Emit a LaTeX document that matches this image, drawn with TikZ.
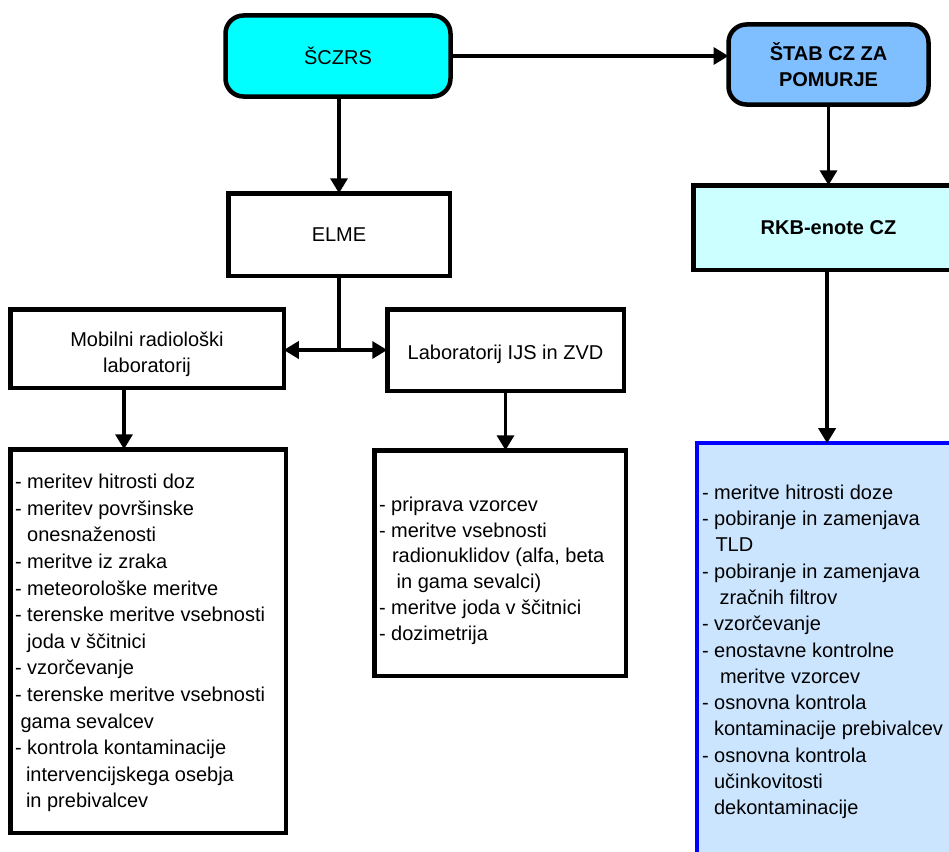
\documentclass[tikz,border=0pt]{standalone}
\usepackage{fontspec}
\setmainfont{Liberation Sans}
\usetikzlibrary{arrows.meta}
\definecolor{cyanc}{RGB}{0,255,255}
\definecolor{stabc}{RGB}{128,191,255}
\definecolor{rkbc}{RGB}{204,255,255}
\definecolor{rbfill}{RGB}{204,229,255}
\definecolor{rbdraw}{RGB}{0,0,255}
\begin{document}
\begin{tikzpicture}[x=1pt,y=-1pt,
  every node/.style={inner sep=0pt, outer sep=0pt},
  boxx/.style={draw=black, line width=4.5pt, rectangle, font=\fontsize{20}{26}\selectfont, align=center},
  rbox/.style={boxx, rounded corners=18pt},
  listtxt/.style={anchor=north west, align=left},
  arr/.style={line width=3.5pt, -{Triangle[length=15pt,width=17pt]}}]
\useasboundingbox (0,0) rectangle (949,851);

% top level
\node[rbox, fill=cyanc, minimum width=225pt, minimum height=81pt] (sc) at (338,56) {ŠCZRS};
\node[rbox, fill=stabc, minimum width=200pt, minimum height=80pt, font=\fontsize{20}{26}\selectfont\bfseries] (st) at (828.5,64.5) {ŠTAB CZ ZA\\POMURJE};

% second level
\node[boxx, fill=white, minimum width=221.5pt, minimum height=82.5pt] (elme) at (339,234.5) {ELME};
\node[boxx, fill=rkbc, minimum width=270.5pt, minimum height=84.5pt, font=\fontsize{20}{26}\selectfont\bfseries] (rkb) at (828.5,227.5) {RKB-enote CZ};

% third level
\node[boxx, fill=white, minimum width=273.5pt, minimum height=78.5pt] (mob) at (147,348.5) {\rule{0pt}{26pt}Mobilni radiološki\\laboratorij};
\node[boxx, fill=white, minimum width=236.5pt, minimum height=81.5pt] (lab) at (505.5,350) {\rule{0pt}{24pt}Laboratorij IJS in ZVD};

% list boxes
\node[boxx, fill=white, minimum width=275.5pt, minimum height=383.5pt] (ll) at (148,641) {};
\node[boxx, fill=white, minimum width=251.5pt, minimum height=225.5pt] (mid) at (500,563) {};
\node[boxx, draw=rbdraw, fill=rbfill, minimum width=259.75pt, minimum height=456.75pt] (rb) at (827.1,671.6) {};

\node[listtxt, font=\fontsize{20}{26.6}\selectfont] (llt) at (15,474.2) {%
- meritev hitrosti doz\\
- meritev površinske\\
\hspace*{12.2pt}onesnaženosti\\
- meritve iz zraka\\
- meteorološke meritve\\
- terenske meritve vsebnosti\\
\hspace*{12.2pt}joda v ščitnici\\
- vzorčevanje\\
- terenske meritve vsebnosti\\
\hspace*{5.6pt}gama sevalcev\\
- kontrola kontaminacije\\
\hspace*{11pt}intervencijskega osebja\\
\hspace*{11pt}in prebivalcev};

\node[listtxt, font=\fontsize{20}{25.7}\selectfont] (midt) at (379,497) {%
- priprava vzorcev\\
- meritve vsebnosti\\
\hspace*{13pt}radionuklidov (alfa, beta\\
\hspace*{17.7pt}in gama sevalci)\\
- meritve joda v ščitnici\\
- dozimetrija};

\node[listtxt, font=\fontsize{20}{26.3}\selectfont] (rbt) at (702,484.7) {%
- meritve hitrosti doze\\
- pobiranje in zamenjava\\
\hspace*{13.5pt}TLD\\
- pobiranje in zamenjava\\
\hspace*{17.5pt}zračnih filtrov\\
- vzorčevanje\\
- enostavne kontrolne\\
\hspace*{18pt}meritve vzorcev\\
- osnovna kontrola\\
\hspace*{12pt}kontaminacije prebivalcev\\
- osnovna kontrola\\
\hspace*{12pt}učinkovitosti\\
\hspace*{12pt}dekontaminacije};

% connectors
\coordinate (j) at (339,350);
\coordinate (mx) at (124,0);
\draw[arr] (sc.east) -- (sc.east -| st.west);
\draw[arr] (sc.south -| elme.north) -- (elme.north);
\draw[arr] (st.south) -- (st.south |- rkb.north);
\draw[arr] (rkb.south -| rb.north) -- (rb.north);
\draw[arr] (elme.south) -- (j) -- (mob.east |- j);
\draw[arr] (j) -- (lab.west |- j);
\draw[arr] (mob.south -| mx) -- (ll.north -| mx);
\draw[arr] (lab.south) -- (lab.south |- mid.north);
\end{tikzpicture}
\end{document}
